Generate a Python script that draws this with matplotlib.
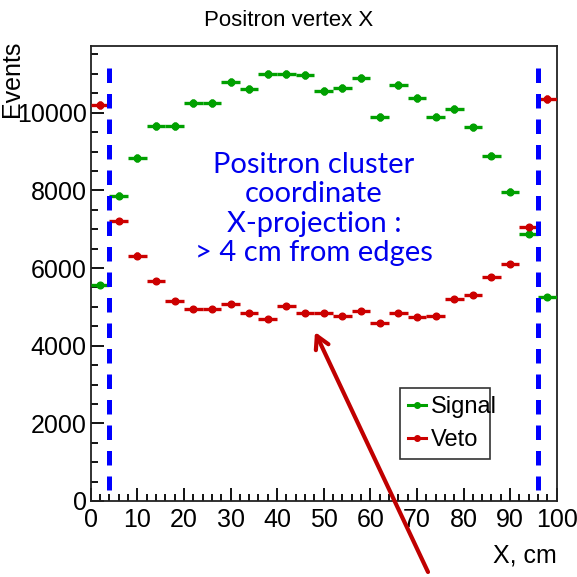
import numpy as np
import matplotlib
matplotlib.use("Agg")
import matplotlib.pyplot as plt
from matplotlib.lines import Line2D
from matplotlib.ticker import MultipleLocator

# Histogram binning: 25 bins of 4 cm over 0..100 cm
bin_edges = list(range(0, 101, 4))
bin_centers = [2, 6, 10, 14, 18, 22, 26, 30, 34, 38, 42, 46, 50,
               54, 58, 62, 66, 70, 74, 78, 82, 86, 90, 94, 98]

signal_counts = [5560, 7860, 8830, 9660, 9660, 10240, 10240, 10800, 10600,
                 10990, 10990, 10960, 10560, 10630, 10890, 9880, 10710,
                 10370, 9900, 10090, 9620, 8890, 7970, 6880, 5260]
signal_errors = [75, 89, 94, 98, 98, 101, 101, 104, 103, 105, 105, 105, 103,
                 103, 104, 99, 103, 102, 99, 100, 98, 94, 89, 83, 73]

veto_counts = [10190, 7210, 6320, 5670, 5160, 4950, 4950, 5070, 4830, 4680,
               5010, 4830, 4830, 4770, 4890, 4580, 4840, 4730, 4760, 5190,
               5300, 5780, 6110, 7060, 10350]
veto_errors = [101, 85, 80, 75, 72, 70, 70, 71, 69, 68, 71, 69, 69, 69, 70,
               68, 70, 69, 69, 72, 73, 76, 78, 84, 102]

fiducial_cuts = [4, 96]
cut_line_range = [11150, 280]

y_max = 11725
x_range = [0, 100]

GREEN = "#00a000"
RED = "#cc0000"
ROOT_FONT = ["Liberation Sans", "DejaVu Sans"]

plt.rcParams["font.family"] = ROOT_FONT

W = H = 577
fig = plt.figure(figsize=(W / 100, H / 100), dpi=100)
ax = fig.add_axes([90.7 / W, 1 - 501 / H, (556.7 - 90.7) / W, (501 - 45.7) / H])

half_width = (bin_edges[1] - bin_edges[0]) / 2

ax.errorbar(bin_centers, signal_counts, xerr=half_width, yerr=signal_errors,
            fmt="o", ms=4.8, color=GREEN, ecolor=GREEN, elinewidth=2.4,
            capsize=0, zorder=3)
ax.errorbar(bin_centers, veto_counts, xerr=half_width, yerr=veto_errors,
            fmt="o", ms=4.8, color=RED, ecolor=RED, elinewidth=2.4,
            capsize=0, zorder=3)

# Fiducial cut lines
for xc in fiducial_cuts:
    ax.plot([xc, xc], cut_line_range, color="#0000ff", lw=3.6,
            linestyle=(0, (2.9, 2.2)), solid_capstyle="butt",
            dash_capstyle="butt", zorder=4)

ax.set_xlim(*x_range)
ax.set_ylim(0, y_max)

ax.xaxis.set_major_locator(MultipleLocator(10))
ax.xaxis.set_minor_locator(MultipleLocator(2))
ax.yaxis.set_major_locator(MultipleLocator(2000))
ax.yaxis.set_minor_locator(MultipleLocator(500))

ax.tick_params(which="both", direction="in", top=False, right=False,
               width=1.3, color="black")
ax.tick_params(which="major", length=9.5)
ax.tick_params(which="minor", length=5)
ax.tick_params(axis="x", labelsize=18, pad=5)
ax.tick_params(axis="y", labelsize=18, pad=3)
for sp in ax.spines.values():
    sp.set_linewidth(1.3)
    sp.set_color("#222222")

# Legend
handles = [
    Line2D([], [], color=GREEN, marker="o", ms=4, lw=2.2),
    Line2D([], [], color=RED, marker="o", ms=4, lw=2.2),
]
leg = ax.legend(handles, ["Signal", "Veto"], loc="upper left",
                bbox_to_anchor=(0.664, 0.248, 0.193, 0.0), mode="expand",
                fontsize=17, handlelength=0.75, handletextpad=0.2,
                labelspacing=0.45, borderpad=0.35, borderaxespad=0,
                frameon=True, fancybox=False, edgecolor="black")
leg.get_frame().set_linewidth(1.2)

# Titles and axis labels
fig.text(0.5, 1 - 20 / H, "Positron vertex X", ha="center", va="center",
         fontsize=16)
fig.text(12 / W, 1 - 41 / H, "Events", rotation=90, ha="center", va="top",
         fontsize=18)
fig.text(557 / W, 1 - 556 / H, "X, cm", ha="right", va="center", fontsize=18)

# Annotation
fig.text(314 / W, 1 - 209 / H,
         "Positron cluster\ncoordinate\nX-projection :\n> 4 cm from edges",
         ha="center", va="center", color="#0000ee", fontsize=21,
         family=["Lato", "DejaVu Sans"], linespacing=1.17)

ax.annotate("", xy=(315, H - 332), xycoords="figure pixels",
            xytext=(428, H - 572), textcoords="figure pixels",
            arrowprops=dict(arrowstyle="->,head_length=0.9,head_width=0.5",
                            color="#c00000", lw=3.0, shrinkA=0, shrinkB=0),
            annotation_clip=False)

fig.savefig("out.png", dpi=100)
